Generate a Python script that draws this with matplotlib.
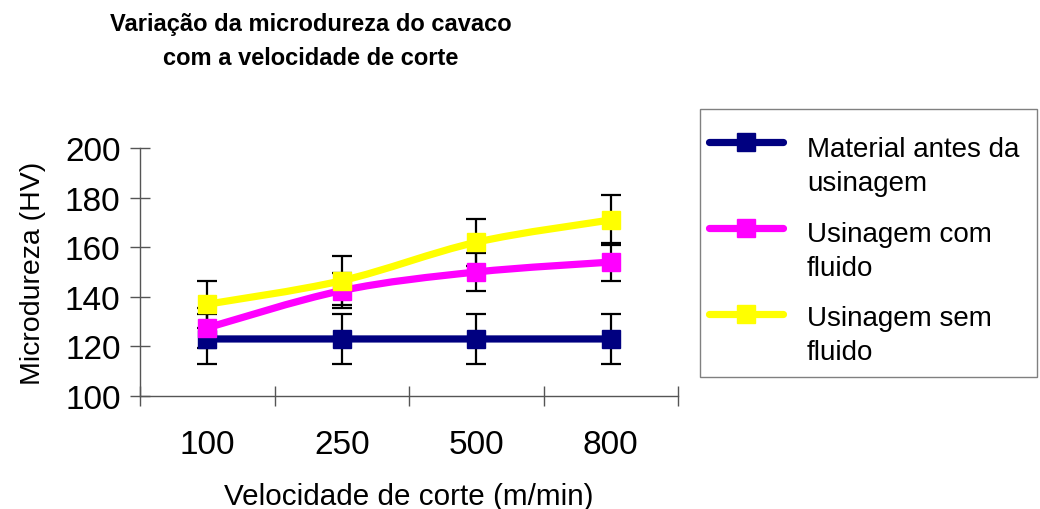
import numpy as np
import matplotlib
matplotlib.use("Agg")
import matplotlib.pyplot as plt
from matplotlib.path import Path
from matplotlib.patches import PathPatch, Rectangle
from matplotlib.lines import Line2D

plt.rcParams['font.family'] = ['Liberation Sans', 'DejaVu Sans']

# Data
velocidades = ['100', '250', '500', '800']
series_names = ['Material antes da\nusinagem', 'Usinagem com\nfluido', 'Usinagem sem\nfluido']
antes = [123, 123, 123, 123]
com_fluido = [127.5, 142.5, 150, 154]
sem_fluido = [137, 146.5, 162, 171]
err_antes = [10, 10, 10, 10]
err_com = [8, 7, 7.5, 7.5]
err_sem = [9.5, 10, 9.5, 10]
cores = ['#000080', '#FF00FF', '#FFFF00']

W, H = 1040, 510


def smooth_path(x, y):
    # Excel-like smoothed line: cubic bezier through the points
    pts = np.column_stack([x, y]).astype(float)
    n = len(pts)
    verts = [pts[0]]
    codes = [Path.MOVETO]
    for i in range(n - 1):
        p0 = pts[i - 1] if i > 0 else pts[i]
        p1 = pts[i]
        p2 = pts[i + 1]
        p3 = pts[i + 2] if i + 2 < n else pts[i + 1]
        c1 = p1 + (p2 - p0) / 6.0
        c2 = p2 - (p3 - p1) / 6.0
        verts += [c1, c2, p2]
        codes += [Path.CURVE4] * 3
    return Path(verts, codes)


fig = plt.figure(figsize=(W / 100, H / 100), dpi=100)
ax = fig.add_axes([140 / W, 1 - 397 / H, 538 / W, 248 / H])

x = np.arange(len(velocidades))
dados = [antes, com_fluido, sem_fluido]
erros = [err_antes, err_com, err_sem]

for y, e in zip(dados, erros):
    ax.errorbar(x, y, yerr=e, fmt='none', ecolor='black', elinewidth=1.6,
                capsize=7, capthick=1.6, zorder=1)

for i, (y, c) in enumerate(zip(dados, cores)):
    patch = PathPatch(smooth_path(x, y), facecolor='none', edgecolor=c,
                      lw=5.2, capstyle='round', joinstyle='round', zorder=2 + i)
    ax.add_patch(patch)
    ax.plot(x, y, linestyle='none', marker='s', markersize=13.5,
            color=c, zorder=2 + i)

ax.set_xlim(-0.5, 3.5)
ax.set_ylim(100, 200)
ax.set_yticks(np.arange(100, 201, 20))
ax.set_xticks(x)
ax.set_xticklabels(velocidades)
ax.set_xticks(np.arange(-0.5, 3.6, 1), minor=True)

for s in ['top', 'right']:
    ax.spines[s].set_visible(False)
for s in ['left', 'bottom']:
    ax.spines[s].set_color('#555555')
    ax.spines[s].set_linewidth(1.0)

ax.tick_params(axis='y', direction='inout', length=14, width=1.0,
               color='#555555', labelsize=24, pad=7)
ax.tick_params(axis='x', which='major', length=0, labelsize=24, pad=24)
ax.tick_params(axis='x', which='minor', direction='inout', length=15,
               width=1.0, color='#555555')

ax.set_xlabel('Velocidade de corte (m/min)', fontsize=21.3, va='top')
ax.xaxis.set_label_coords(0.5, -0.345)
ax.set_ylabel('Microdureza (HV)', fontsize=20.5)
ax.yaxis.set_label_coords(-0.175, 0.5)

# title, one text per line
fig.text(311 / W, 1 - 31 / H, 'Variação da microdureza do cavaco',
         ha='center', va='baseline', fontsize=17, fontweight='bold')
fig.text(311 / W, 1 - 65 / H, 'com a velocidade de corte',
         ha='center', va='baseline', fontsize=17, fontweight='bold')

# legend box (Excel style: handle next to the first line of each label)
fig.add_artist(Rectangle((700 / W, 1 - 378 / H), 337 / W, 268 / H,
                         transform=fig.transFigure, facecolor='white',
                         edgecolor='#808080', lw=1.0, zorder=0))
handle_y = [143, 229, 315]
text_y = [167, 252.5, 336]
for c, nome, hy, ty in zip(cores, series_names, handle_y, text_y):
    fig.add_artist(Line2D([709 / W, 783 / W], [1 - hy / H, 1 - hy / H],
                          transform=fig.transFigure, color=c, lw=5.2,
                          solid_capstyle='round'))
    fig.add_artist(Line2D([746 / W], [1 - hy / H], transform=fig.transFigure,
                          color=c, marker='s', markersize=13.5, linestyle='none'))
    fig.text(807 / W, 1 - ty / H, nome, ha='left', va='center',
             fontsize=20, linespacing=1.4)

fig.savefig('out.png', dpi=100)
